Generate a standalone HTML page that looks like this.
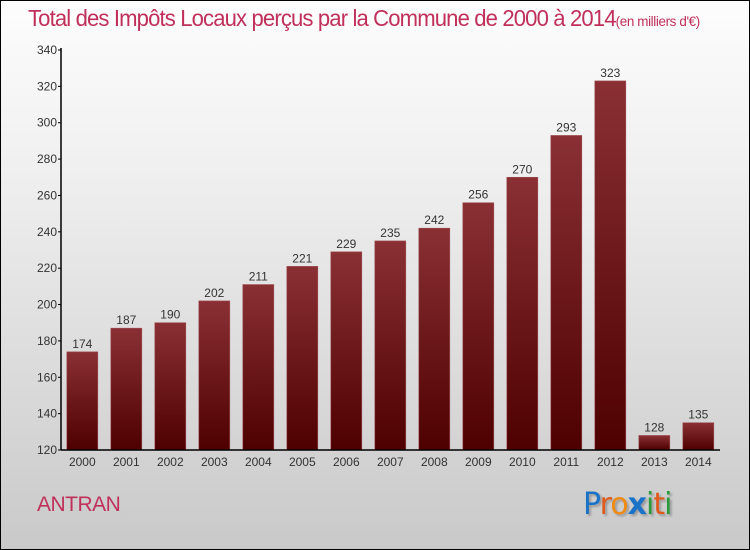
<!DOCTYPE html>
<html><head><meta charset="utf-8"><style>
body{margin:0;}
#wrap{position:relative;width:748px;height:548px;border:1px solid #000;background:linear-gradient(#fdfdfd,#f0f0f0 30%,#c9c9c9);overflow:hidden;font-family:"Liberation Sans",sans-serif;}
#title{position:absolute;left:27px;top:4px;font-size:23px;color:#c0305a;letter-spacing:-0.9px;white-space:nowrap;font-weight:normal;transform:scaleX(0.96);transform-origin:left;}
#title small{font-size:14px;letter-spacing:-0.4px;}
#city{position:absolute;left:36px;top:492px;font-size:21px;color:#c0305a;letter-spacing:-0.5px;}
#logo{position:absolute;left:582px;top:486px;font-size:30px;font-family:"DejaVu Sans",sans-serif;text-shadow:2px 2px 2px #999;letter-spacing:-1px;}
</style></head><body>
<div id="wrap">
<div id="title">Total des Impôts Locaux perçus par la Commune de 2000 à 2014<small>(en milliers d'€)</small></div>
<svg id="chart" width="748" height="548" style="position:absolute;left:0;top:0"></svg>
<div id="city">ANTRAN</div>
<div id="logo"><span style="color:#1a73c8">P</span><span style="color:#e05a1a">r</span><span style="color:#f08a10">o</span><span style="color:#1a73c8;font-weight:bold">x</span><span style="color:#2a9a3a">i</span><span style="color:#e05a1a">t</span><span style="color:#2a9a3a">i</span></div>
</div>
<script>
const categories=["2000","2001","2002","2003","2004","2005","2006","2007","2008","2009","2010","2011","2012","2013","2014"];
const values=[174,187,190,202,211,221,229,235,242,256,270,293,323,128,135];
const yTicks=[120,140,160,180,200,220,240,260,280,300,320,340];
const svg=document.getElementById('chart');
const NS='http://www.w3.org/2000/svg';
const ox=-1,oy=-1;
function y(v){return 450-(v-120)*400/220+oy;}
function x(i){return 82.3+i*44+ox;}
function mk(t,a){const e=document.createElementNS(NS,t);for(const k in a)e.setAttribute(k,a[k]);svg.appendChild(e);return e;}
const defs=mk('defs',{});
defs.innerHTML='<linearGradient id="g" x1="0" y1="0" x2="0" y2="1"><stop offset="0" stop-color="#8a3035"/><stop offset="1" stop-color="#4e0000"/></linearGradient>';
values.forEach((v,i)=>{
 const r=mk('rect',{x:x(i)-15.5,y:y(v),width:31,height:y(120)-y(v),fill:'url(#g)',stroke:'#a05055','stroke-width':0.6});
 
 
 const t=mk('text',{x:x(i),y:y(v)-4,'text-anchor':'middle','font-size':12,fill:'#333'});
 t.textContent=v;
 
 
 const c=mk('text',{x:x(i),y:466+oy,'text-anchor':'middle','font-size':12,fill:'#333'});
 c.textContent=categories[i];
 
 
});
yTicks.forEach(v=>{
 const t=mk('text',{x:57+ox,y:y(v)+4,'text-anchor':'end','font-size':12,fill:'#333'});
 t.textContent=v;
 
 
 const l=mk('line',{x1:58+ox,x2:61+ox,y1:y(v),y2:y(v),stroke:'#000'});
 
 
});
const ya=mk('line',{x1:61+ox,x2:61+ox,y1:y(340)-2,y2:y(120),stroke:'#000','stroke-width':1.5});


const xa=mk('line',{x1:61+ox,x2:720+ox,y1:y(120),y2:y(120),stroke:'#000','stroke-width':1.5});


</script>
</body></html>
